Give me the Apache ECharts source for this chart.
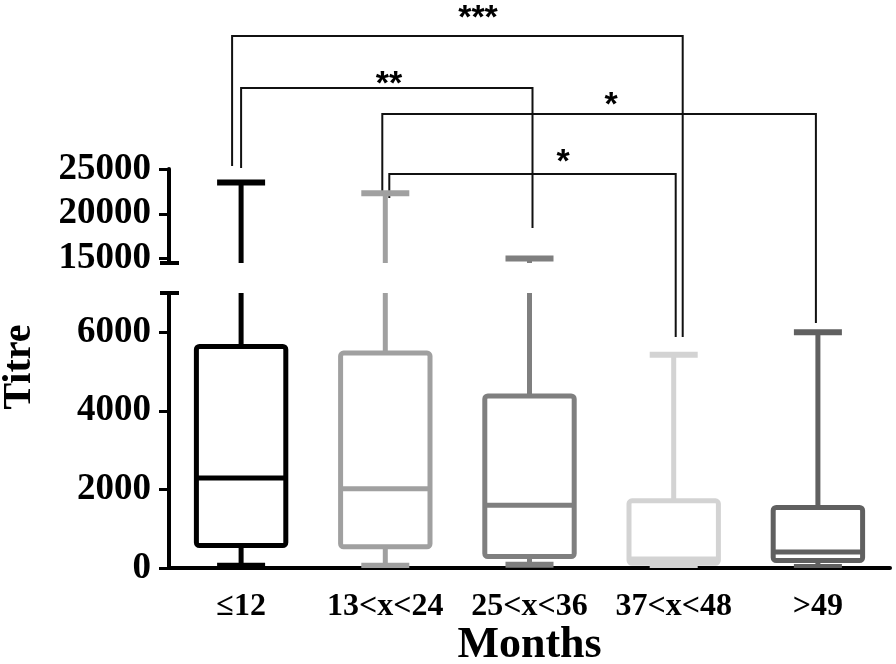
<!DOCTYPE html>
<html>
<head>
<meta charset="utf-8">
<script src="https://cdn.jsdelivr.net/npm/echarts@6/dist/echarts.min.js"></script>
<style>
  html, body { margin: 0; padding: 0; background: #fff; }
  #chart { width: 896px; height: 664px; }
</style>
</head>
<body>
<div id="chart"></div>
<script>
// 月龄分组
const categories = ['≤12', '13<x<24', '25<x<36', '37<x<48', '>49']
// 箱线图统计量
const minValues = [60, 60, 80, 0, 25]
const q1Values = [570, 540, 290, 120, 190]
const medianValues = [2290, 2020, 1600, 230, 410]
const q3Values = [5640, 5470, 4380, 1710, 1540]
const maxValues = [23500, 22300, 15000, 5430, 6000]
// 刻度
const lowerTicks = [0, 2000, 4000, 6000]
const upperTicks = [15000, 20000, 25000]
// 显著性标注
const sigPairs = [[0, 3], [0, 2], [1, 4], [1, 3]]
const sigLabels = ['***', '**', '*', '*']

const boxColors = ['#000000', '#a0a0a0', '#7f7f7f', '#d3d3d3', '#606060']
const serif = 'Liberation Serif'

const chart = echarts.init(document.getElementById('chart'))

const boxData = categories.map((c, i) => [i, minValues[i], q1Values[i], medianValues[i], q3Values[i], maxValues[i]])

function renderBox(params, api) {
  const idx = api.value(0)
  const xc = api.coord([idx, 0])[0]
  const bw = api.size([1, 0])[0] * 0.62
  const cw = 48
  const y = d => api.coord([idx, api.value(d)])[1]
  const yMin = y(1), yQ1 = y(2), yMed = y(3), yQ3 = y(4), yMax = y(5)
  const line = { stroke: boxColors[idx], lineWidth: 5, lineJoin: 'round', fill: null }
  const cap = Object.assign({}, line, { lineWidth: 6 })
  return {
    type: 'group',
    children: [
      { type: 'line', shape: { x1: xc, y1: yQ3, x2: xc, y2: yMax }, style: line },
      { type: 'line', shape: { x1: xc - cw / 2, y1: yMax, x2: xc + cw / 2, y2: yMax }, style: cap },
      { type: 'line', shape: { x1: xc, y1: yQ1, x2: xc, y2: yMin }, style: line },
      { type: 'line', shape: { x1: xc - cw / 2, y1: yMin, x2: xc + cw / 2, y2: yMin }, style: cap },
      { type: 'rect', shape: { x: xc - bw / 2, y: yQ3, width: bw, height: yQ1 - yQ3, r: 3 }, style: Object.assign({}, line, { fill: '#fff' }) },
      { type: 'line', shape: { x1: xc - bw / 2, y1: yMed, x2: xc + bw / 2, y2: yMed }, style: line }
    ]
  }
}

const labelFont = { color: '#000', fontFamily: serif, fontWeight: 'bold' }

const option = {
  animation: false,
  grid: [
    { left: 169, right: 6, top: 293, bottom: 96, outerBoundsMode: 'none' },
    { left: 169, right: 6, top: 169, bottom: 401, outerBoundsMode: 'none' }
  ],
  xAxis: [
    {
      type: 'category',
      gridIndex: 0,
      data: categories,
      axisLine: { lineStyle: { color: '#000', width: 4 } },
      axisTick: { alignWithLabel: true, length: 10, lineStyle: { color: '#000', width: 3 } },
      axisLabel: Object.assign({ fontSize: 32, margin: 23, interval: 0, hideOverlap: false }, labelFont),
      name: 'Months',
      nameLocation: 'middle',
      nameGap: 56,
      nameTextStyle: Object.assign({ fontSize: 44 }, labelFont)
    },
    {
      type: 'category',
      gridIndex: 1,
      data: categories,
      show: false
    }
  ],
  yAxis: [
    {
      type: 'value',
      gridIndex: 0,
      min: 0,
      max: 7000,
      splitLine: { show: false },
      axisLine: { show: true, lineStyle: { color: '#000', width: 4 } },
      axisTick: { show: true, customValues: lowerTicks, length: 10, lineStyle: { color: '#000', width: 3 } },
      axisLabel: Object.assign({ customValues: lowerTicks, fontSize: 37, margin: 18, formatter: v => String(v) }, labelFont)
    },
    {
      type: 'value',
      gridIndex: 1,
      min: 14500,
      max: 25000,
      splitLine: { show: false },
      axisLine: { show: true, lineStyle: { color: '#000', width: 4 } },
      axisTick: { show: true, customValues: upperTicks, length: 10, lineStyle: { color: '#000', width: 3 } },
      axisLabel: Object.assign({ customValues: upperTicks, fontSize: 37, margin: 18, formatter: v => String(v) }, labelFont)
    }
  ],
  series: [
    {
      type: 'custom',
      xAxisIndex: 0,
      yAxisIndex: 0,
      clip: true,
      renderItem: renderBox,
      encode: { x: 0, y: [1, 2, 3, 4, 5] },
      data: boxData
    },
    {
      type: 'custom',
      xAxisIndex: 1,
      yAxisIndex: 1,
      clip: true,
      renderItem: renderBox,
      encode: { x: 0, y: [1, 2, 3, 4, 5] },
      data: boxData
    }
  ]
}

chart.setOption(option)

// 标注与断轴
const px = i => chart.convertToPixel({ xAxisIndex: 0 }, i)
const axisX = 169
const lowerTop = chart.convertToPixel({ yAxisIndex: 0 }, 7000)
const upperBottom = chart.convertToPixel({ yAxisIndex: 1 }, 14500)

// 每个标注的布局: 顶部高度、左右竖线末端、左右偏移、文字位置
const sigLayout = [
  { top: 36, yl: 166, yr: 337, dl: -9, dr: 9, tx: 478, ty: 19 },
  { top: 88, yl: 168, yr: 228, dl: 0, dr: 3, tx: 389, ty: 85 },
  { top: 114, yl: 196, yr: 323, dl: -3, dr: -2, tx: 611, ty: 106 },
  { top: 174, yl: 198, yr: 337, dl: 4, dr: 2, tx: 563, ty: 163 }
]

const graphics = []
sigPairs.forEach((p, k) => {
  const L = sigLayout[k]
  const xl = px(p[0]) + L.dl
  const xr = px(p[1]) + L.dr
  graphics.push({
    type: 'polyline',
    shape: { points: [[xl, L.yl], [xl, L.top], [xr, L.top], [xr, L.yr]] },
    style: { stroke: '#111', lineWidth: 2, fill: null }
  })
  graphics.push({
    type: 'text',
    x: L.tx,
    y: L.ty,
    style: {
      text: sigLabels[k],
      fontFamily: 'Liberation Sans',
      fontWeight: 'bold',
      fontSize: 34,
      fill: '#000',
      align: 'center',
      verticalAlign: 'middle'
    }
  })
})

// 断轴标记
graphics.push(
  { type: 'line', shape: { x1: axisX - 9, y1: lowerTop, x2: axisX + 10, y2: lowerTop }, style: { stroke: '#000', lineWidth: 4 } },
  { type: 'line', shape: { x1: axisX - 9, y1: upperBottom, x2: axisX + 10, y2: upperBottom }, style: { stroke: '#000', lineWidth: 4 } }
)

// 纵轴标题
graphics.push({
  type: 'text',
  x: 20,
  y: 367,
  rotation: Math.PI / 2,
  style: {
    text: 'Titre',
    fontFamily: serif,
    fontWeight: 'bold',
    fontSize: 40,
    fill: '#000',
    align: 'center',
    verticalAlign: 'middle'
  }
})

chart.setOption({ graphic: graphics })

window.addEventListener('resize', () => chart.resize())
</script>
</body>
</html>
